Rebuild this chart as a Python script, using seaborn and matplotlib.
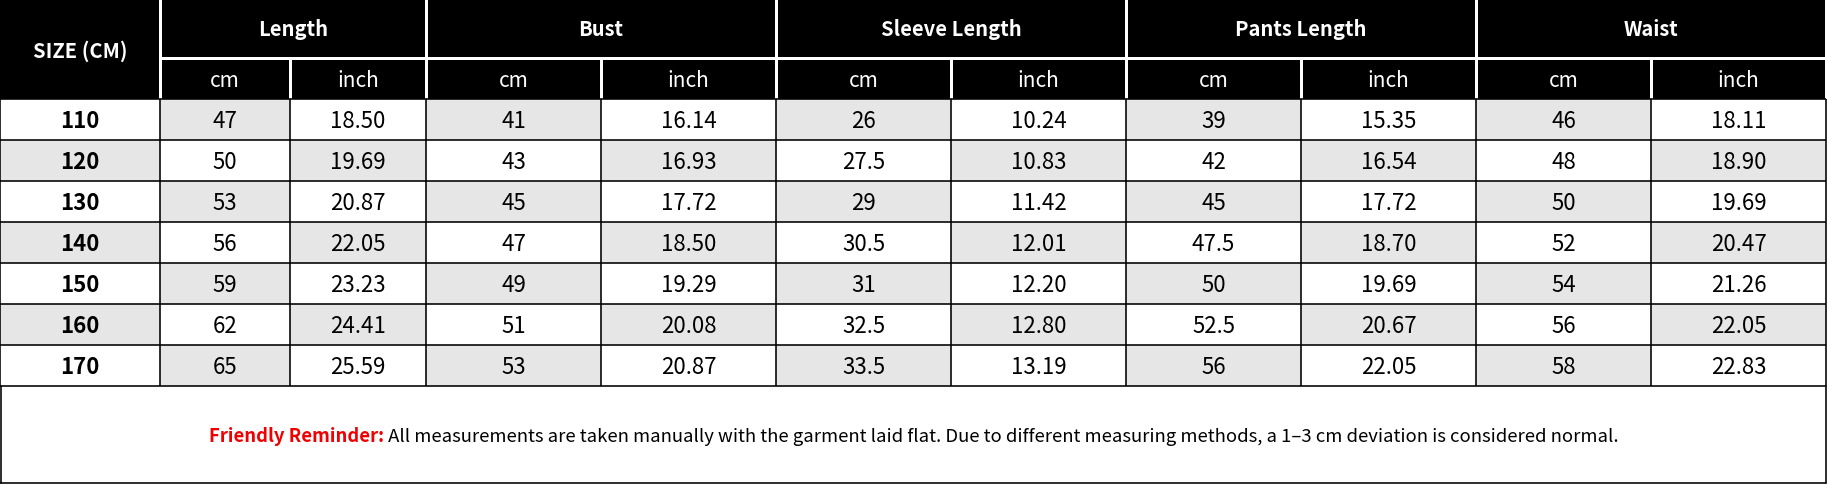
import matplotlib
matplotlib.use("Agg")
import matplotlib.pyplot as plt
from matplotlib.patches import Rectangle
import seaborn as sns

# ---------------- data ----------------
sizes = [110, 120, 130, 140, 150, 160, 170]
groups = ["Length", "Bust", "Sleeve Length", "Pants Length", "Waist"]
units = ["cm", "inch"]
length_cm = [47, 50, 53, 56, 59, 62, 65]
length_in = [18.50, 19.69, 20.87, 22.05, 23.23, 24.41, 25.59]
bust_cm = [41, 43, 45, 47, 49, 51, 53]
bust_in = [16.14, 16.93, 17.72, 18.50, 19.29, 20.08, 20.87]
sleeve_cm = [26, 27.5, 29, 30.5, 31, 32.5, 33.5]
sleeve_in = [10.24, 10.83, 11.42, 12.01, 12.20, 12.80, 13.19]
pants_cm = [39, 42, 45, 47.5, 50, 52.5, 56]
pants_in = [15.35, 16.54, 17.72, 18.70, 19.69, 20.67, 22.05]
waist_cm = [46, 48, 50, 52, 54, 56, 58]
waist_in = [18.11, 18.90, 19.69, 20.47, 21.26, 22.05, 22.83]
corner_label = "SIZE (CM)"
note_red = "Friendly Reminder:"
note_black = (" All measurements are taken manually with the garment laid flat. "
              "Due to different measuring methods, a 1\u20133 cm deviation is considered normal.")

# ---------------- layout (pixels) ----------------
W, H = 1827, 485
col_edges = [0, 160, 290, 426, 601, 776, 951, 1126, 1301, 1476, 1651, 1826]
head1 = (0, 58.5)
head2 = (58.5, 99.5)
row_top = 99.5
row_h = 41
note_bottom = 484
GRAY = "#e6e6e6"
RED = "#f00000"

sns.set_theme(style="white")
plt.rcParams["font.family"] = ["Noto Sans CJK SC", "DejaVu Sans"]

fig = plt.figure(figsize=(W / 100, H / 100), dpi=100)
ax = fig.add_axes([0, 0, 1, 1])
ax.set_xlim(0, W)
ax.set_ylim(H, 0)
ax.axis("off")

columns = [
    [f"{v:g}" for v in length_cm], [f"{v:.2f}" for v in length_in],
    [f"{v:g}" for v in bust_cm], [f"{v:.2f}" for v in bust_in],
    [f"{v:g}" for v in sleeve_cm], [f"{v:.2f}" for v in sleeve_in],
    [f"{v:g}" for v in pants_cm], [f"{v:.2f}" for v in pants_in],
    [f"{v:g}" for v in waist_cm], [f"{v:.2f}" for v in waist_in],
]

x0, x1 = col_edges[0], col_edges[-1]
n = len(sizes)
data_bottom = row_top + n * row_h
dy = 2  # vertical text correction for font metrics

# header background
ax.add_patch(Rectangle((x0, 0), x1 - x0, head2[1], facecolor="black", edgecolor="none"))
# white separators in header
lw_white = 3 * 72 / 100
ax.plot([col_edges[1], x1], [head1[1], head1[1]], color="white", lw=lw_white, solid_capstyle="butt")
for gi in range(len(groups) + 1):
    xe = col_edges[1 + 2 * gi]
    ax.plot([xe, xe], [0, head2[1]], color="white", lw=lw_white, solid_capstyle="butt")
for gi in range(len(groups)):
    xe = col_edges[2 + 2 * gi]
    ax.plot([xe, xe], [head2[0], head2[1]], color="white", lw=lw_white, solid_capstyle="butt")

# header texts
ax.text((col_edges[0] + col_edges[1]) / 2, 49 + dy, corner_label, color="white",
        fontsize=14.5, fontweight="bold", ha="center", va="center")
for gi, g in enumerate(groups):
    xa, xb = col_edges[1 + 2 * gi], col_edges[3 + 2 * gi]
    ax.text((xa + xb) / 2, 27 + dy + 1, g, color="white", fontsize=14.5, fontweight="bold",
            ha="center", va="center")
    for ui, u in enumerate(units):
        xa, xb = col_edges[1 + 2 * gi + ui], col_edges[2 + 2 * gi + ui]
        ax.text((xa + xb) / 2, 79 + dy, u, color="white", fontsize=15,
                ha="center", va="center")

# data cells
for r in range(n):
    yt = row_top + r * row_h
    for c in range(len(col_edges) - 1):
        fill = GRAY if (r + c) % 2 == 1 else "white"
        ax.add_patch(Rectangle((col_edges[c], yt), col_edges[c + 1] - col_edges[c], row_h,
                               facecolor=fill, edgecolor="none"))
        xc = (col_edges[c] + col_edges[c + 1]) / 2
        if c == 0:
            ax.text(xc, yt + row_h / 2 + dy, str(sizes[r]), color="black", fontsize=16,
                    fontweight="bold", ha="center", va="center")
        else:
            ax.text(xc, yt + row_h / 2 + dy, columns[c - 1][r], color="black", fontsize=16,
                    ha="center", va="center")

# grid lines
lw_black = 1.6 * 72 / 100
for r in range(n + 1):
    y = row_top + r * row_h
    ax.plot([x0, x1], [y, y], color="black", lw=lw_black, solid_capstyle="butt")
for xe in col_edges:
    ax.plot([xe, xe], [row_top, data_bottom], color="black", lw=lw_black, solid_capstyle="butt")
# note box
ax.plot([x0 + 0.8, x0 + 0.8], [data_bottom, note_bottom], color="black", lw=lw_black)
ax.plot([x1, x1], [data_bottom, note_bottom], color="black", lw=lw_black)
ax.plot([x0, x1], [note_bottom, note_bottom], color="black", lw=lw_black)

# reminder text
ny = 437
t1 = ax.text(0, ny, note_red, color=RED, fontsize=13.3, fontweight="bold", ha="left", va="center")
t2 = ax.text(0, ny, note_black, color="black", fontsize=13.3, ha="left", va="center")
fig.canvas.draw()
r = fig.canvas.get_renderer()
b1 = t1.get_window_extent(r)
b2 = t2.get_window_extent(r)
w1 = b1.width
w2 = b2.width
total = w1 + w2
start = (W - total) / 2
t1.set_x(start)
t2.set_x(start + w1)

fig.savefig("out.png", dpi=100)
